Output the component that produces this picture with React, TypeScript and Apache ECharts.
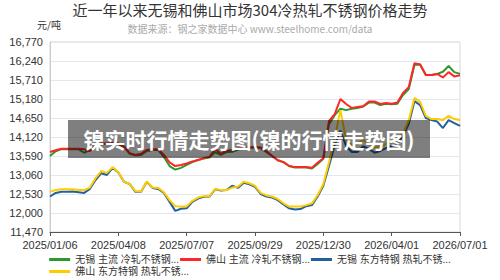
import React, { useEffect, useRef } from "react";
import * as echarts from "echarts";

const tickDates = ["2025/01/06", "2025/04/08", "2025/07/07", "2025/09/29", "2025/12/30", "2026/04/01", "2026/07/01"];
const yTicks = { min: 11470, max: 16770, interval: 530 };

const seriesNames = [
  "无锡 主流 冷轧不锈钢...",
  "佛山 主流 冷轧不锈钢...",
  "无锡 东方特钢 热轧不锈...",
  "佛山 东方特钢 热轧不锈...",
];
const seriesColors = ["#2b9a2b", "#ff2626", "#23609f", "#ffcc00"];

const wuxiCold = [
  13590, 13720, 13780, 13780, 13780, 13780, 13680, 13760, 13850, 13920,
  13930, 13930, 13920, 13860, 13650, 13610, 13620, 13730, 13760, 13760,
  13560, 13310, 13210, 13260, 13340, 13420, 13480, 13520, 13550, 13700,
  13620, 13700, 13710, 13770, 13810, 13830, 13830, 13810, 13700, 13590,
  13470, 13420, 13310, 13270, 13270, 13270, 13240, 13370, 13510, 14480,
  14730, 14910, 14870, 14910, 14930, 14970, 15080, 15080, 15010, 15050,
  15030, 15050, 15290, 15460, 16130, 16140, 15850, 15850, 15880, 15940,
  16100, 15930, 15880,
];
const foshanCold = [
  13700, 13750, 13790, 13790, 13790, 13790, 13780, 13730, 13880, 13940,
  13940, 13950, 13940, 13840, 13670, 13620, 13650, 13760, 13780, 13780,
  13620, 13410, 13310, 13340, 13380, 13440, 13480, 13530, 13570, 13790,
  13650, 13740, 13760, 13810, 13830, 13830, 13840, 13830, 13730, 13590,
  13470, 13420, 13310, 13280, 13280, 13280, 13260, 13400, 13530, 14570,
  14760, 15180, 15040, 14930, 14960, 14980, 15110, 15110, 15040, 15070,
  15050, 15080, 15350, 15510, 16180, 16140, 15850, 15850, 15880, 15780,
  15930, 15810, 15840,
];
const wuxiHot = [
  12460, 12560, 12590, 12590, 12600, 12580, 12560, 12670, 12920, 13110,
  13060, 13260, 13130, 12870, 12810, 12590, 12590, 12870, 12700, 12670,
  12560, 12310, 12060, 12120, 12130, 12310, 12400, 12450, 12460, 12660,
  12630, 12640, 12760, 12700, 12840, 12800, 12730, 12530, 12460, 12430,
  12360, 12240, 12130, 12100, 12110, 12190, 12220, 12460, 12760, 13310,
  13900, 14300, 13870, 13700, 13700, 13860, 13790, 13680, 13730, 13810,
  13870, 13950, 14150, 14480, 15120, 15010, 14650, 14590, 14550, 14370,
  14590, 14510, 14430,
];
const foshanHot = [
  12590, 12640, 12660, 12660, 12660, 12640, 12640, 12710, 12970, 13170,
  13120, 13280, 13140, 12870, 12810, 12610, 12600, 12880, 12710, 12700,
  12580, 12360, 12190, 12180, 12190, 12340, 12430, 12470, 12470, 12670,
  12640, 12640, 12710, 12730, 12870, 12830, 12760, 12560, 12490, 12460,
  12390, 12270, 12180, 12180, 12180, 12220, 12270, 12500, 12810, 13420,
  14090, 14870, 14040, 13900, 13930, 14040, 13930, 13830, 13840, 13930,
  13970, 14040, 14230, 14590, 15210, 15100, 14710, 14620, 14620, 14590,
  14710, 14620, 14590,
];

const STEP = 12;

function parseDate(s: string) {
  const [y, m, d] = s.split("/").map(Number);
  return Date.UTC(y, m - 1, d);
}
function fmt(t: number) {
  const d = new Date(t);
  const p = (n: number) => String(n).padStart(2, "0");
  return `${d.getUTCFullYear()}/${p(d.getUTCMonth() + 1)}/${p(d.getUTCDate())}`;
}
function buildCategories() {
  const out: string[] = [];
  for (let k = 0; k < tickDates.length - 1; k++) {
    const a = parseDate(tickDates[k]);
    const b = parseDate(tickDates[k + 1]);
    const days = Math.round((b - a) / 86400000);
    for (let j = 0; j < STEP; j++) {
      out.push(j === 0 ? tickDates[k] : fmt(a + Math.round((days * j) / STEP) * 86400000));
    }
  }
  out.push(tickDates[tickDates.length - 1]);
  return out;
}

const FONT = "'Noto Sans CJK SC', 'Noto Sans', sans-serif";
const LATIN = "'Liberation Sans', 'Noto Sans CJK SC', sans-serif";

export default function App() {
  const ref = useRef<HTMLDivElement>(null);
  useEffect(() => {
    if (!ref.current) return;
    const chart = echarts.init(ref.current, undefined, { renderer: "svg" });
    const categories = buildCategories();
    const values = [wuxiCold, foshanCold, wuxiHot, foshanHot];
    chart.setOption({
      animation: false,
      textStyle: { fontFamily: FONT },
      title: {
        text: "近一年以来无锡和佛山市场304冷热轧不锈钢价格走势",
        subtext: "数据来源：钢之家数据中心 www.steelhome.com/data",
        left: "center",
        top: 2,
        itemGap: 6,
        padding: 0,
        textStyle: { fontSize: 15, fontWeight: "normal", color: "#333", fontFamily: FONT },
        subtextStyle: { fontSize: 10, color: "#aaa", fontFamily: FONT },
      },
      grid: {
        left: 50,
        right: 40,
        top: 42,
        bottom: 48,
        show: true,
        borderColor: "#d6d6d6",
        borderWidth: 1,
      },
      legend: {
        left: "center",
        top: 254,
        padding: 0,
        itemWidth: 21,
        itemHeight: 3,
        itemGap: 1,
        icon: "rect",
        textStyle: { fontSize: 10, lineHeight: 11, color: "#333", fontFamily: LATIN },
        data: seriesNames,
      },
      xAxis: {
        type: "category",
        boundaryGap: false,
        data: categories,
        axisLine: { lineStyle: { color: "#555" } },
        axisTick: { interval: STEP - 1, length: 4, lineStyle: { color: "#555" } },
        axisLabel: { interval: STEP - 1, fontSize: 11, color: "#333", margin: 7, fontFamily: LATIN },
        splitLine: { show: false },
      },
      yAxis: {
        type: "value",
        min: yTicks.min,
        max: yTicks.max,
        interval: yTicks.interval,
        axisLine: { show: true, lineStyle: { color: "#ccc", width: 1 } },
        axisTick: { show: false },
        axisLabel: { fontSize: 11, color: "#333", margin: 7, fontFamily: LATIN },
        splitLine: { lineStyle: { color: "#e3e7ef" } },
      },
      series: values.map((v, i) => ({
        name: seriesNames[i],
        type: "line",
        data: v,
        showSymbol: false,
        symbol: "none",
        color: seriesColors[i],
        lineStyle: { width: 2, color: seriesColors[i] },
      })),
      graphic: [
        {
          type: "text",
          left: 37,
          top: 19,
          style: { text: "元/吨", fontSize: 10, fill: "#333", fontFamily: FONT },
        },
        {
          type: "rect",
          shape: { x: 68, y: 120, width: 362, height: 38 },
          style: { fill: "rgba(0,0,0,0.5)" },
          z: 100,
        },
        {
          type: "text",
          x: 249,
          y: 139,
          z: 101,
          style: {
            text: "镍实时行情走势图(镍的行情走势图)",
            fontSize: 21,
            fontWeight: "bold",
            fill: "#fff",
            align: "center",
            verticalAlign: "middle",
            fontFamily: FONT,
          },
        },
      ],
    });
    return () => chart.dispose();
  }, []);
  return <div ref={ref} style={{ width: 500, height: 280, position: "absolute", left: 0, top: 0 }} />;
}
